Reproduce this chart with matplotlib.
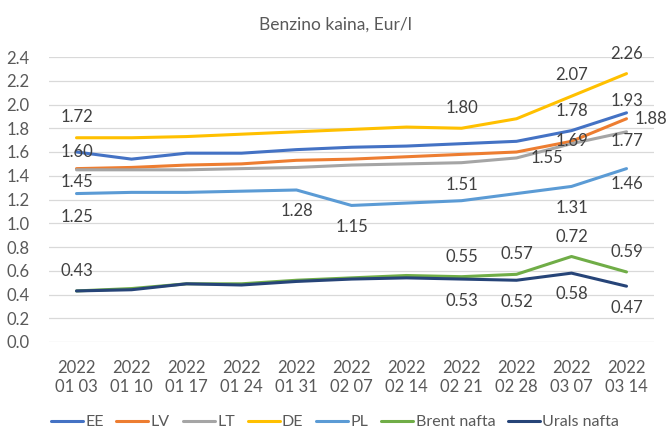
import matplotlib
matplotlib.use("Agg")
import matplotlib.pyplot as plt

plt.rcParams['font.family'] = ['Lato', 'DejaVu Sans']

dates = ["2022\n01 03", "2022\n01 10", "2022\n01 17", "2022\n01 24", "2022\n01 31", "2022\n02 07",
         "2022\n02 14", "2022\n02 21", "2022\n02 28", "2022\n03 07", "2022\n03 14"]

ee = [1.60, 1.54, 1.59, 1.59, 1.62, 1.64, 1.65, 1.67, 1.69, 1.78, 1.93]
lv = [1.46, 1.47, 1.49, 1.50, 1.53, 1.54, 1.56, 1.58, 1.60, 1.69, 1.88]
lt = [1.45, 1.45, 1.45, 1.46, 1.47, 1.49, 1.50, 1.51, 1.55, 1.67, 1.77]
de = [1.72, 1.72, 1.73, 1.75, 1.77, 1.79, 1.81, 1.80, 1.88, 2.07, 2.26]
pl = [1.25, 1.26, 1.26, 1.27, 1.28, 1.15, 1.17, 1.19, 1.25, 1.31, 1.46]
brent = [0.43, 0.45, 0.49, 0.49, 0.52, 0.54, 0.56, 0.55, 0.57, 0.72, 0.59]
urals = [0.43, 0.44, 0.49, 0.48, 0.51, 0.53, 0.54, 0.53, 0.52, 0.58, 0.47]

series = {"EE": ee, "LV": lv, "LT": lt, "DE": de, "PL": pl,
          "Brent nafta": brent, "Urals nafta": urals}
colors = {"EE": "#4472C4", "LV": "#ED7D31", "LT": "#A5A5A5", "DE": "#FFC000",
          "PL": "#5B9BD5", "Brent nafta": "#70AD47", "Urals nafta": "#264478"}

# which points get a value label: (series, index, dx px, dy px, horizontal align)
labels = [
    ("DE", 0, 0, 21, "center"), ("DE", 7, 0, 20, "center"),
    ("DE", 9, 0, 21, "center"), ("DE", 10, 0, 20, "center"),
    ("EE", 0, 0, 0, "center"), ("EE", 9, 0, 20, "center"), ("EE", 10, 0, 12, "center"),
    ("LV", 10, 8, 0, "left"), ("LV", 9, 0, 0, "center"),
    ("LT", 0, 0, -12, "center"), ("LT", 7, 0, -22, "center"),
    ("LT", 8, 14, 0, "left"), ("LT", 10, 0, -9, "center"),
    ("PL", 0, 0, -23, "center"), ("PL", 4, 0, -21, "center"), ("PL", 5, 0, -22, "center"),
    ("PL", 9, 0, -22, "center"), ("PL", 10, 0, -15, "center"),
    ("Brent nafta", 0, 0, 20, "center"), ("Brent nafta", 7, 0, 20, "center"),
    ("Brent nafta", 8, 0, 20, "center"), ("Brent nafta", 9, 0, 20, "center"),
    ("Brent nafta", 10, 0, 20, "center"),
    ("Urals nafta", 7, 0, -22, "center"), ("Urals nafta", 8, 0, -22, "center"),
    ("Urals nafta", 9, 0, -21, "center"), ("Urals nafta", 10, 0, -22, "center"),
]

fig = plt.figure(figsize=(6.7, 4.47), dpi=100)
ax = fig.add_axes([49/670, 1-342/447, (654-49)/670, (342-57)/447])

x = list(range(len(dates)))
for name, vals in series.items():
    ax.plot(x, vals, color=colors[name], linewidth=2.2, label=name, solid_capstyle="round")

px = 0.72  # points per pixel at 100 dpi
for name, i, dx, dy, ha in labels:
    v = series[name][i]
    ax.annotate(f"{v:.2f}", (i, v), xytext=(dx*px, dy*px), textcoords="offset points",
                ha=ha, va="center", fontsize=12, color="#404040")

ax.set_ylim(0, 2.4)
ax.set_xlim(-0.5, len(dates) - 0.5)
ax.set_yticks([i/5 for i in range(13)])
ax.set_yticklabels([f"{i/5:.1f}" for i in range(13)])
ax.set_xticks(x)
ax.set_xticklabels(dates)
ax.grid(axis="y", color="#D9D9D9", linewidth=0.9)
ax.set_axisbelow(True)
for s in ax.spines.values():
    s.set_visible(False)
ax.tick_params(length=0, labelsize=12, colors="#595959", pad=13)
ax.tick_params(axis="y", pad=14)

fig.text(0.5, 1-25/447, "Benzino kaina, Eur/l", ha="center", va="center", fontsize=12.5, color="#595959")

fig.legend(loc="center", bbox_to_anchor=(0.5, 1-422/447), ncol=7, frameon=False,
           fontsize=11.5, handlelength=2.0, handletextpad=0.15, columnspacing=0.8,
           labelcolor="#595959")

fig.savefig("out.png", dpi=100)
